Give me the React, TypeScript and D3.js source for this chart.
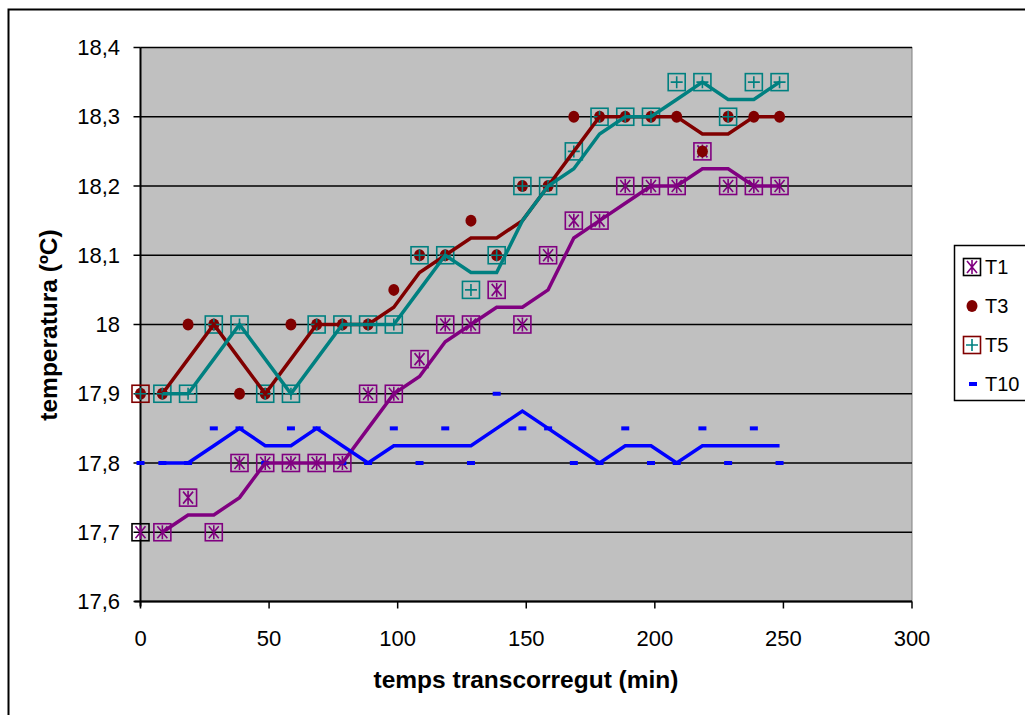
import * as d3 from "d3";

// minutes since start
const times = [0, 8.5, 18.5, 28.5, 38.5, 48.5, 58.5, 68.5, 78.5, 88.5, 98.5, 108.5, 118.5, 128.5, 138.5, 148.5, 158.5, 168.5, 178.5, 188.5, 198.5, 208.5, 218.5, 228.5, 238.5, 248.5];

const t1 = [17.7, 17.7, 17.75, 17.7, 17.8, 17.8, 17.8, 17.8, 17.8, 17.9, 17.9, 17.95, 18.0, 18.0, 18.05, 18.0, 18.1, 18.15, 18.15, 18.2, 18.2, 18.2, 18.25, 18.2, 18.2, 18.2];
const t3 = [17.9, 17.9, 18.0, 18.0, 17.9, 17.9, 18.0, 18.0, 18.0, 18.0, 18.05, 18.1, 18.1, 18.15, 18.1, 18.2, 18.2, 18.3, 18.3, 18.3, 18.3, 18.3, 18.25, 18.3, 18.3, 18.3];
const t5 = [17.9, 17.9, 17.9, 18.0, 18.0, 17.9, 17.9, 18.0, 18.0, 18.0, 18.0, 18.1, 18.1, 18.05, 18.1, 18.2, 18.2, 18.25, 18.3, 18.3, 18.3, 18.35, 18.35, 18.3, 18.35, 18.35];
const t10 = [17.8, 17.8, 17.8, 17.85, 17.85, 17.8, 17.85, 17.85, 17.8, 17.8, 17.85, 17.8, 17.85, 17.8, 17.9, 17.85, 17.85, 17.8, 17.8, 17.85, 17.8, 17.8, 17.85, 17.8, 17.85, 17.8];

const seriesNames = ["T1", "T3", "T5", "T10"];
const xTicks = [0, 50, 100, 150, 200, 250, 300];
const yTicks = [17.6, 17.7, 17.8, 17.9, 18.0, 18.1, 18.2, 18.3, 18.4];

const PURPLE = "#800080";
const MAROON = "#800000";
const TEAL = "#008080";
const BLUE = "#0000ff";
const FONT = "'Liberation Sans', Arial, sans-serif";

const plot = { left: 140.5, right: 912, top: 47.5, bottom: 601.5 };

// 2-period moving average, like the Excel trendline
const movingAvg = (vals: number[]) =>
  vals.slice(1).map((v, i) => ({ t: times[i + 1], v: (v + vals[i]) / 2 }));

const fmt = (v: number) => {
  const s = Math.abs(v - Math.round(v)) < 1e-9 ? String(Math.round(v)) : v.toFixed(1);
  return s.replace(".", ",");
};

function BoxMarker({ x, y, border, inner, kind }: { x: number; y: number; border: string; inner: string; kind: "star" | "plus" }) {
  const h = 8.5;
  return (
    <g>
      <rect x={x - h} y={y - h} width={h * 2} height={h * 2} fill="none" stroke={border} strokeWidth={1.6} />
      {kind === "plus" ? (
        <path d={`M${x - 6},${y}H${x + 6}M${x},${y - 6}V${y + 6}`} stroke={inner} strokeWidth={1.6} />
      ) : (
        <path d={`M${x - 5},${y - 6}L${x + 5},${y + 6}M${x + 5},${y - 6}L${x - 5},${y + 6}M${x},${y - 7}V${y + 7}`} stroke={inner} strokeWidth={1.6} fill="none" />
      )}
    </g>
  );
}

function Dot({ x, y }: { x: number; y: number }) {
  return <ellipse cx={x} cy={y} rx={5.5} ry={6} fill={MAROON} />;
}

function Dash({ x, y }: { x: number; y: number }) {
  return <rect x={x - 4} y={y - 2} width={8} height={4} fill={BLUE} />;
}

export default function App() {
  const x = d3.scaleLinear().domain([0, 300]).range([plot.left, plot.right]);
  const y = d3.scaleLinear().domain([17.6, 18.4]).range([plot.bottom, plot.top]);

  const line = d3
    .line<{ t: number; v: number }>()
    .x((d) => x(d.t))
    .y((d) => y(d.v));

  const trends = [
    { vals: t1, color: PURPLE },
    { vals: t3, color: MAROON },
    { vals: t5, color: TEAL },
    { vals: t10, color: BLUE },
  ];

  const legendY = [267, 306, 345, 384];

  return (
    <svg width={1025} height={715} style={{ position: "absolute", left: 0, top: 0, fontFamily: FONT }}>
      <rect x={0} y={0} width={1025} height={715} fill="#fff" />
      {/* chart border */}
      <rect x={8.5} y={9.5} width={1040} height={720} fill="none" stroke="#000" strokeWidth={2} />

      {/* plot area */}
      <rect x={plot.left} y={plot.top} width={plot.right - plot.left} height={plot.bottom - plot.top} fill="#c0c0c0" stroke="#808080" strokeWidth={1} />
      {yTicks.map((v) => (
        <line key={v} x1={plot.left} x2={plot.right} y1={y(v)} y2={y(v)} stroke="#000" strokeWidth={1.5} />
      ))}

      {/* axes */}
      <line x1={plot.left} x2={plot.left} y1={plot.top} y2={plot.bottom + 5} stroke="#000" strokeWidth={2} />
      <line x1={plot.left - 6} x2={plot.right} y1={plot.bottom} y2={plot.bottom} stroke="#000" strokeWidth={2} />
      {yTicks.map((v) => (
        <g key={v}>
          <line x1={plot.left - 7} x2={plot.left} y1={y(v)} y2={y(v)} stroke="#000" strokeWidth={1.5} />
          <text x={120} y={y(v)} dy="0.35em" textAnchor="end" fontSize={22}>{fmt(v)}</text>
        </g>
      ))}
      {xTicks.map((v) => (
        <g key={v}>
          <line x1={x(v)} x2={x(v)} y1={plot.bottom} y2={plot.bottom + 7} stroke="#000" strokeWidth={1.5} />
          <text x={x(v)} y={646} textAnchor="middle" fontSize={22}>{fmt(v)}</text>
        </g>
      ))}
      <text x={526} y={688} textAnchor="middle" fontSize={24.5} fontWeight="bold">temps transcorregut (min)</text>
      <text transform="translate(57,325) rotate(-90)" textAnchor="middle" fontSize={24.5} fontWeight="bold">temperatura (ºC)</text>

      {/* markers */}
      {t1.map((v, i) => (
        <BoxMarker key={"a" + i} x={x(times[i])} y={y(v)} border={i === 0 ? "#000" : PURPLE} inner={PURPLE} kind="star" />
      ))}
      {t3.map((v, i) => (
        <Dot key={"b" + i} x={x(times[i])} y={y(v)} />
      ))}
      {t5.map((v, i) => (
        <BoxMarker key={"c" + i} x={x(times[i])} y={y(v)} border={i === 0 ? MAROON : TEAL} inner={TEAL} kind="plus" />
      ))}
      {t10.map((v, i) => (
        <Dash key={"d" + i} x={x(times[i])} y={y(v)} />
      ))}

      {/* moving average trendlines */}
      {trends.map((s, i) => (
        <path key={i} d={line(movingAvg(s.vals)) ?? ""} fill="none" stroke={s.color} strokeWidth={3.5} strokeLinejoin="miter" />
      ))}

      {/* legend */}
      <rect x={954.5} y={245.5} width={100} height={155} fill="#fff" stroke="#000" strokeWidth={1.5} />
      <BoxMarker x={972} y={legendY[0]} border="#000" inner={PURPLE} kind="star" />
      <Dot x={972} y={legendY[1]} />
      <BoxMarker x={972} y={legendY[2]} border={MAROON} inner={TEAL} kind="plus" />
      <Dash x={973} y={legendY[3]} />
      {seriesNames.map((n, i) => (
        <text key={n} x={985} y={legendY[i]} dy="0.36em" fontSize={20}>{n}</text>
      ))}
    </svg>
  );
}
